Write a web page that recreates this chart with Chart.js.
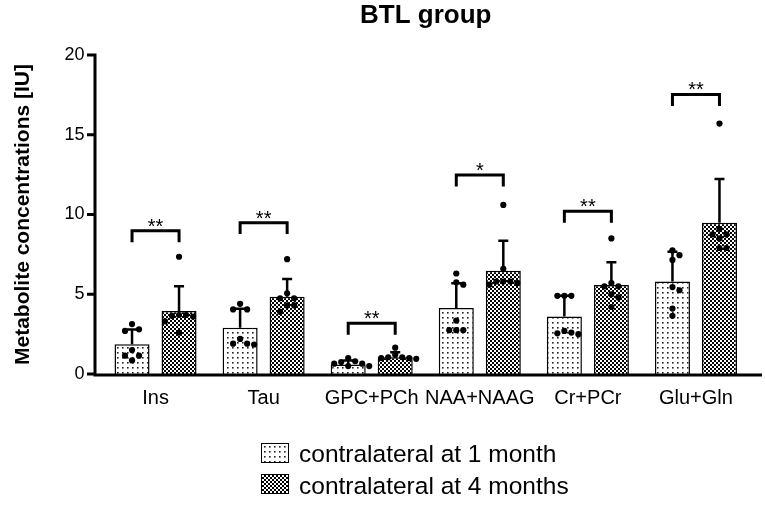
<!DOCTYPE html>
<html>
<head>
<meta charset="utf-8">
<script src="https://cdn.jsdelivr.net/npm/chart.js@4.4.1/dist/chart.umd.min.js"></script>
<style>
  html, body { margin: 0; padding: 0; background: #fff; }
  #wrap { position: relative; width: 765px; height: 516px; }
  #chart, #dots { position: absolute; left: 0; top: 0; }
  .sw { position: absolute; width: 26px; height: 18px; border: 1px solid #000; }
  .lt { position: absolute; font-family: "Liberation Sans", Arial, sans-serif; font-size: 24.5px; line-height: 27px; color: #000; white-space: nowrap; }
</style>
</head>
<body>
<div id="wrap">
  <canvas id="chart" width="765" height="516"></canvas>
  <canvas id="dots" width="765" height="516"></canvas>
  <div class="sw" id="sw0" style="left:261px;top:443px;"></div>
  <div class="lt" id="lt0" style="left:299px;top:440px;"></div>
  <div class="sw" id="sw1" style="left:261px;top:474px;"></div>
  <div class="lt" id="lt1" style="left:299px;top:472px;"></div>
</div>
<script>
// ---------------- data ----------------
const categories = ['Ins', 'Tau', 'GPC+PCh', 'NAA+NAAG', 'Cr+PCr', 'Glu+Gln'];
const seriesLabels = ['contralateral at 1 month', 'contralateral at 4 months'];
const mean1 = [1.87, 2.90, 0.60, 4.14, 3.60, 5.80];
const sd1   = [0.92, 1.19, 0.25, 1.55, 1.30, 1.87];
const mean2 = [3.95, 4.85, 1.05, 6.48, 5.58, 9.49];
const sd2   = [1.55, 1.11, 0.31, 1.88, 1.42, 2.74];
const points1 = [
  [3.13, 2.80, 2.70, 1.50, 1.15, 1.15, 0.85],
  [4.40, 4.05, 4.05, 2.20, 1.90, 1.90, 1.85],
  [1.00, 0.80, 0.75, 0.65, 0.65, 0.50, 0.50],
  [6.30, 5.75, 5.60, 3.35, 2.75, 2.75, 2.75],
  [4.90, 4.90, 4.90, 2.70, 2.60, 2.55, 2.50],
  [7.75, 7.45, 7.15, 5.45, 5.25, 4.10, 3.65]
];
const points2 = [
  [7.35, 3.70, 3.70, 3.65, 3.60, 3.30, 2.60],
  [7.20, 5.06, 4.75, 4.75, 4.30, 4.30, 3.90],
  [1.65, 1.20, 1.05, 1.05, 1.00, 1.00, 0.95],
  [10.60, 6.60, 5.80, 5.80, 5.80, 5.70, 5.60],
  [8.50, 5.70, 5.50, 5.50, 5.00, 4.80, 4.20],
  [15.70, 9.10, 8.75, 8.75, 8.50, 7.90, 7.90]
];
const bracketLevels = [8.98, 9.49, 3.18, 12.48, 10.20, 17.53];
const significance = ['**', '**', '**', '*', '**', '**'];
const yTicks = [0, 5, 10, 15, 20];

// ---------------- style ----------------
const FONT = '"Liberation Sans", Arial, sans-serif';
const CAT_PCT = 0.87, BAR_PCT = 0.745;
const Y_MIN = 0, Y_MAX = 20;

function makePattern(kind) {
  const c = document.createElement('canvas');
  const g = c.getContext('2d');
  if (kind === 'dots') {
    c.width = 5; c.height = 5;
    g.fillStyle = '#fff'; g.fillRect(0, 0, 5, 5);
    g.fillStyle = '#222'; g.fillRect(2, 2, 1.6, 1.6);
  } else {
    c.width = 4; c.height = 4;
    g.fillStyle = '#000'; g.fillRect(0, 0, 4, 4);
    g.fillStyle = '#fff'; g.fillRect(0, 0, 2, 2); g.fillRect(2, 2, 2, 2);
  }
  return c;
}
const patCanvases = [makePattern('dots'), makePattern('check')];
const ctx = document.getElementById('chart').getContext('2d');
const patterns = patCanvases.map(c => ctx.createPattern(c, 'repeat'));

// legend (HTML)
[0, 1].forEach(i => {
  document.getElementById('sw' + i).style.backgroundImage = 'url(' + patCanvases[i].toDataURL() + ')';
  document.getElementById('lt' + i).textContent = seriesLabels[i];
});

// simple beeswarm layout for the individual points
const PX_PER_UNIT = 15.95, PX_PER_CAT = 108;
function swarm(values, centre) {
  const placed = [];
  const step = 7, minDist = 7;
  return values.map(v => {
    const yp = v * PX_PER_UNIT;
    const cands = [0, step, -step, 2 * step, -2 * step, 3 * step, -3 * step];
    let off = cands[cands.length - 1];
    for (const c of cands) {
      if (placed.every(p => Math.hypot(p.x - c, p.y - yp) >= minDist)) { off = c; break; }
    }
    placed.push({ x: off, y: yp });
    return { x: centre + off / PX_PER_CAT, y: v };
  });
}
function scatterData(points, s) {
  const out = [];
  points.forEach((vals, i) => {
    const centre = i + (s - 0.5) * CAT_PCT / 2;
    swarm(vals, centre).forEach(p => out.push(p));
  });
  return out;
}

const overlay = {
  id: 'overlay',
  afterDatasetDraw(chart, args) {
    const ds = chart.data.datasets[args.index];
    const y = chart.scales.y;
    const sds = ds.sdValues;
    const g = chart.ctx;
    g.save();
    g.strokeStyle = '#000';
    g.lineWidth = 2.5;
    args.meta.data.forEach((el, i) => {
      const top = y.getPixelForValue(ds.data[i] + sds[i]);
      g.beginPath();
      g.moveTo(el.x, el.y);
      g.lineTo(el.x, top);
      g.moveTo(el.x - 5, top);
      g.lineTo(el.x + 5, top);
      g.stroke();
    });
    g.restore();
  },
  afterDraw(chart) {
    const g = chart.ctx;
    const y = chart.scales.y;
    const area = chart.chartArea;
    const m0 = chart.getDatasetMeta(0), m1 = chart.getDatasetMeta(1);
    g.save();
    g.strokeStyle = '#000';
    g.fillStyle = '#000';
    g.lineWidth = 3;
    // brackets and significance stars
    g.font = '20px ' + FONT;
    g.textAlign = 'center';
    g.textBaseline = 'alphabetic';
    bracketLevels.forEach((lvl, i) => {
      const xa = m0.data[i].x, xb = m1.data[i].x;
      const yt = y.getPixelForValue(lvl), yl = y.getPixelForValue(lvl - 0.72);
      g.beginPath();
      g.moveTo(xa, yl); g.lineTo(xa, yt); g.lineTo(xb, yt); g.lineTo(xb, yl);
      g.stroke();
      g.fillText(significance[i], (xa + xb) / 2, yt + 2);
    });
    // axes
    const axisX = area.left - 6.5;
    const y0 = y.getPixelForValue(Y_MIN);
    g.lineWidth = 3;
    g.beginPath();
    g.moveTo(axisX, y0 + 1);
    g.lineTo(area.right + 12, y0 + 1);
    g.moveTo(axisX, y.getPixelForValue(Y_MAX) - 1.5);
    g.lineTo(axisX, y0 + 2.5);
    y.ticks.forEach(t => {
      const p = y.getPixelForValue(t.value);
      g.moveTo(axisX - 8, p);
      g.lineTo(axisX, p);
    });
    g.stroke();
    g.restore();
  }
};

const barChart = new Chart(ctx, {
  type: 'bar',
  data: {
    labels: categories,
    datasets: [
      { label: seriesLabels[0], data: mean1, sdValues: sd1, backgroundColor: patterns[0],
        borderColor: '#000', borderWidth: 1.5, categoryPercentage: CAT_PCT, barPercentage: BAR_PCT },
      { label: seriesLabels[1], data: mean2, sdValues: sd2, backgroundColor: patterns[1],
        borderColor: '#000', borderWidth: 1.5, categoryPercentage: CAT_PCT, barPercentage: BAR_PCT }
    ]
  },
  options: {
    responsive: false,
    animation: false,
    devicePixelRatio: 1,
    layout: { padding: { left: 0, right: 15, top: 0, bottom: 0 } },
    plugins: {
      legend: { display: false },
      tooltip: { enabled: false },
      title: {
        display: true, text: 'BTL group', fullSize: false, color: '#000',
        font: { family: FONT, size: 26, weight: 'bold' },
        padding: { top: 0, bottom: 23.8 }
      }
    },
    scales: {
      x: {
        type: 'category', offset: true,
        grid: { display: false, drawTicks: false }, border: { display: false },
        ticks: { color: '#000', font: { family: FONT, size: 20 }, padding: 12, maxRotation: 0, autoSkip: false },
        afterFit: s => { s.height = 142; }
      },
      y: {
        min: Y_MIN, max: Y_MAX,
        grid: { display: false, drawTicks: false }, border: { display: false },
        afterBuildTicks: s => { s.ticks = yTicks.map(v => ({ value: v })); },
        ticks: { color: '#000', font: { family: FONT, size: 18 }, padding: 17 },
        title: { display: true, text: 'Metabolite concentrations [IU]', color: '#000',
                 font: { family: FONT, size: 21, weight: 'bold' }, padding: { top: 11, bottom: 0 } },
        afterFit: s => { s.width = 101.5; }
      }
    }
  },
  plugins: [overlay]
});

// individual points: a second, transparent chart aligned on the same plot area
const A = barChart.chartArea;
new Chart(document.getElementById('dots').getContext('2d'), {
  type: 'scatter',
  data: {
    datasets: [
      { label: seriesLabels[0], data: scatterData(points1, 0) },
      { label: seriesLabels[1], data: scatterData(points2, 1) }
    ]
  },
  options: {
    responsive: false,
    animation: false,
    devicePixelRatio: 1,
    layout: { padding: { left: A.left, top: A.top, right: 765 - A.right, bottom: 516 - A.bottom } },
    elements: { point: { radius: 3.1, backgroundColor: '#000', borderWidth: 0 } },
    plugins: { legend: { display: false }, tooltip: { enabled: false } },
    scales: {
      x: { type: 'linear', display: false, offset: false, min: -0.5, max: categories.length - 0.5 },
      y: { type: 'linear', display: false, min: Y_MIN, max: Y_MAX }
    }
  }
});
</script>
</body>
</html>
